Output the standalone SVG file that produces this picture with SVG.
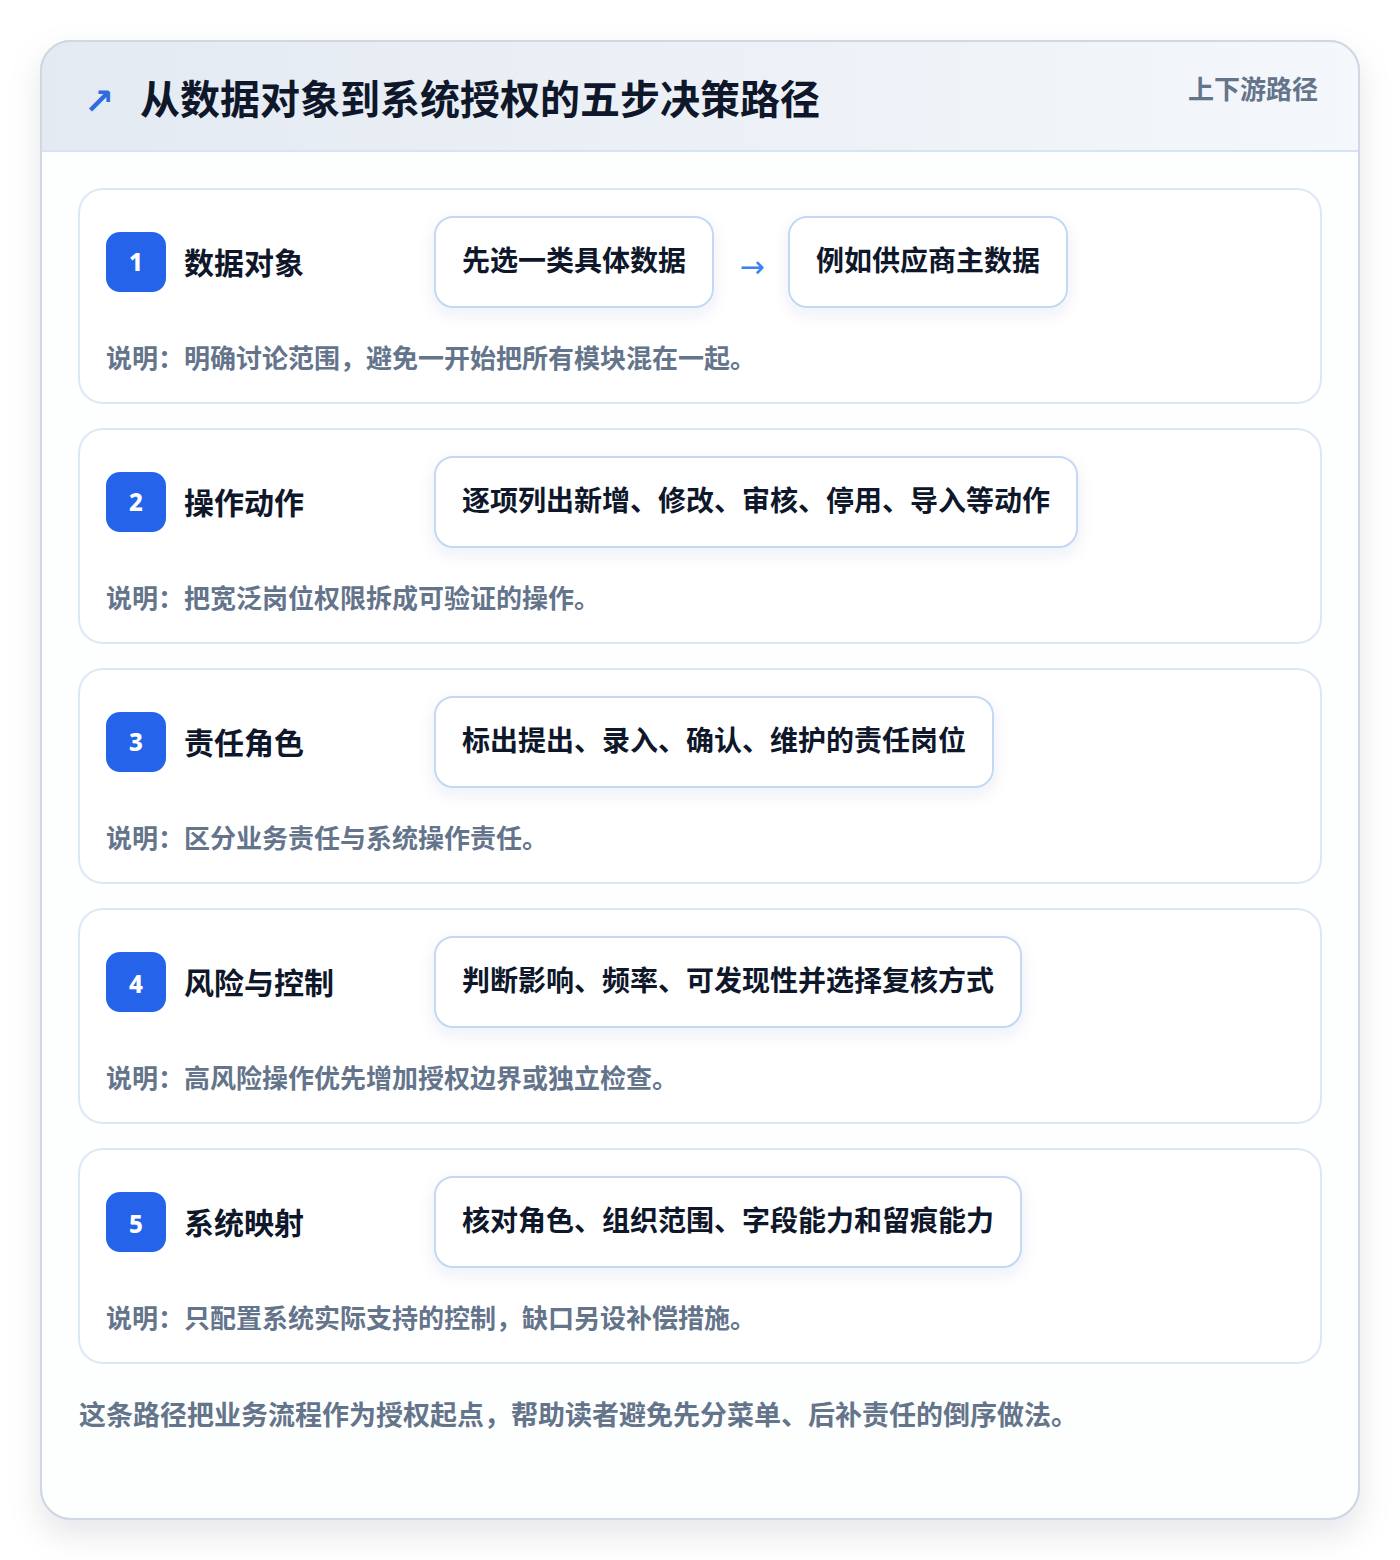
<svg xmlns="http://www.w3.org/2000/svg" width="1400" height="1560" viewBox="0 0 1400 1560">
<defs>
<linearGradient id="hdr" x1="0" y1="0" x2="1" y2="0">
<stop offset="0" stop-color="#e4eaf2"/>
<stop offset="1" stop-color="#f4f7fb"/>
</linearGradient>
<filter id="outerShadow" x="-10%" y="-10%" width="120%" height="120%">
<feDropShadow dx="0" dy="14" stdDeviation="16" flood-color="#0f172a" flood-opacity="0.10"/>
</filter>
<filter id="pillShadow" x="-20%" y="-30%" width="140%" height="170%">
<feDropShadow dx="0" dy="6" stdDeviation="8" flood-color="#1e3a8a" flood-opacity="0.08"/>
</filter>
<clipPath id="outerClip"><rect x="41" y="41" width="1318" height="1478" rx="30"/></clipPath>
</defs>
<style>
text{font-family:"Noto Sans CJK SC","Noto Sans",sans-serif;font-weight:700}
.card{fill:#ffffff;stroke:#dde8f7;stroke-width:2}
.badge{fill:#2563eb}
.num{fill:#ffffff;font-size:24px;font-family:"Noto Sans","Liberation Sans",sans-serif;font-weight:800}
.title{fill:#0f172a;font-size:30px}
.pill{fill:#ffffff;stroke:#c3d8f4;stroke-width:2}
.ptext{fill:#0f172a;font-size:28px}
.desc{fill:#64748b;font-size:26px}
.conn{fill:#3b82f6;font-size:30px;font-family:"DejaVu Sans",sans-serif;font-weight:400}
</style>
<rect x="0" y="0" width="1400" height="1560" fill="#ffffff"/>
<g id="frame">
<rect x="41" y="41" width="1318" height="1478" rx="30" fill="#fdfefe" stroke="#cfd8e4" stroke-width="2" filter="url(#outerShadow)"/>
<rect x="41" y="41" width="1318" height="110" fill="url(#hdr)" clip-path="url(#outerClip)"/>
<line x1="41" y1="151" x2="1359" y2="151" stroke="#d6e4f5" stroke-width="2"/>
<rect x="41" y="41" width="1318" height="1478" rx="30" fill="none" stroke="#cfd8e4" stroke-width="2"/>
<text x="84" y="114" style="fill:#2f6be0;font-size:36px;font-family:'DejaVu Sans',sans-serif;font-weight:700">↗</text>
<text x="140" y="114" style="fill:#0f172a;font-size:40px">从数据对象到系统授权的五步决策路径</text>
<text x="1318" y="99" text-anchor="end" style="fill:#64748b;font-size:26px">上下游路径</text>
</g>
<g id="step1">
<rect class="card" x="79" y="189" width="1242" height="214" rx="24"/>
<rect class="badge" x="106" y="232" width="60" height="60" rx="14"/>
<text class="num" x="136" y="271" text-anchor="middle">1</text>
<text class="title" x="184" y="274">数据对象</text>
<g id="step1-a"><rect class="pill" x="435" y="217" width="278" height="90" rx="18" filter="url(#pillShadow)"/>
<text class="ptext" x="574" y="271" text-anchor="middle">先选一类具体数据</text></g>
<g id="step1-b"><rect class="pill" x="789" y="217" width="278" height="90" rx="18" filter="url(#pillShadow)"/>
<text class="ptext" x="928" y="271" text-anchor="middle">例如供应商主数据</text></g>
<text class="desc" x="106" y="368">说明：明确讨论范围，避免一开始把所有模块混在一起。</text>
</g>
<g id="connectors">
<text class="conn" x="752" y="277" text-anchor="middle">→</text>
</g>
<g id="step2">
<rect class="card" x="79" y="429" width="1242" height="214" rx="24"/>
<rect class="badge" x="106" y="472" width="60" height="60" rx="14"/>
<text class="num" x="136" y="511" text-anchor="middle">2</text>
<text class="title" x="184" y="514">操作动作</text>
<rect class="pill" x="435" y="457" width="642" height="90" rx="18" filter="url(#pillShadow)"/>
<text class="ptext" x="756" y="511" text-anchor="middle">逐项列出新增、修改、审核、停用、导入等动作</text>
<text class="desc" x="106" y="608">说明：把宽泛岗位权限拆成可验证的操作。</text>
</g>
<g id="step3">
<rect class="card" x="79" y="669" width="1242" height="214" rx="24"/>
<rect class="badge" x="106" y="712" width="60" height="60" rx="14"/>
<text class="num" x="136" y="751" text-anchor="middle">3</text>
<text class="title" x="184" y="754">责任角色</text>
<rect class="pill" x="435" y="697" width="558" height="90" rx="18" filter="url(#pillShadow)"/>
<text class="ptext" x="714" y="751" text-anchor="middle">标出提出、录入、确认、维护的责任岗位</text>
<text class="desc" x="106" y="848">说明：区分业务责任与系统操作责任。</text>
</g>
<g id="step4">
<rect class="card" x="79" y="909" width="1242" height="214" rx="24"/>
<rect class="badge" x="106" y="952" width="60" height="60" rx="14"/>
<text class="num" x="136" y="993" text-anchor="middle">4</text>
<text class="title" x="184" y="994">风险与控制</text>
<rect class="pill" x="435" y="937" width="586" height="90" rx="18" filter="url(#pillShadow)"/>
<text class="ptext" x="728" y="991" text-anchor="middle">判断影响、频率、可发现性并选择复核方式</text>
<text class="desc" x="106" y="1088">说明：高风险操作优先增加授权边界或独立检查。</text>
</g>
<g id="step5">
<rect class="card" x="79" y="1149" width="1242" height="214" rx="24"/>
<rect class="badge" x="106" y="1192" width="60" height="60" rx="14"/>
<text class="num" x="136" y="1233" text-anchor="middle">5</text>
<text class="title" x="184" y="1234">系统映射</text>
<rect class="pill" x="435" y="1177" width="586" height="90" rx="18" filter="url(#pillShadow)"/>
<text class="ptext" x="728" y="1231" text-anchor="middle">核对角色、组织范围、字段能力和留痕能力</text>
<text class="desc" x="106" y="1328">说明：只配置系统实际支持的控制，缺口另设补偿措施。</text>
</g>
<g id="footer">
<text x="79" y="1425" style="fill:#64748b;font-size:27px">这条路径把业务流程作为授权起点，帮助读者避免先分菜单、后补责任的倒序做法。</text>
</g>
</svg>
